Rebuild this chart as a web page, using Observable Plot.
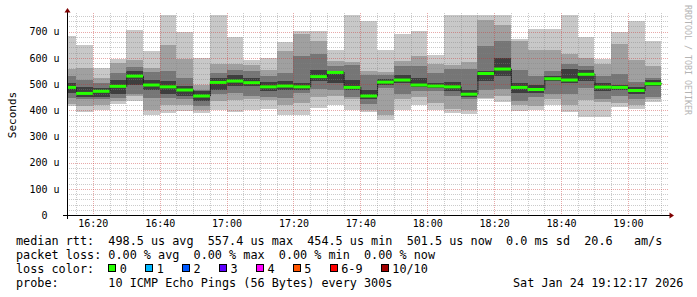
<!DOCTYPE html>
<html><head><meta charset="utf-8">
<script src="https://cdn.jsdelivr.net/npm/d3@7"></script>
<script src="https://cdn.jsdelivr.net/npm/@observablehq/plot@0.6"></script>
<style>
body{margin:0;background:#fff;}
#wrap{width:697px;height:297px;position:relative;overflow:hidden;background:#fff}
svg{display:block}
</style></head><body><div id="wrap"></div>
<script>
// 5-minute bar start times (Sat Jan 24 2026)
const barStarts = ["16:10","16:15","16:20","16:25","16:30","16:35","16:40","16:45","16:50","16:55",
  "17:00","17:05","17:10","17:15","17:20","17:25","17:30","17:35","17:40","17:45",
  "17:50","17:55","18:00","18:05","18:10","18:15","18:20","18:25","18:30","18:35",
  "18:40","18:45","18:50","18:55","19:00","19:05"];
// smoke band edges (microseconds), outer -> inner
const pMin = [415,392,400,424,434,380,390,396,390,400,392,402,405,383,383,410,418,400,392,364,402,421,400,390,384,441,430,396,400,421,392,375,375,413,406,432];
const p2lo = [424,415,421,434,453,402,421,421,402,434,438,443,438,421,428,451,453,441,402,380,443,451,428,405,402,447,453,418,415,441,418,440,430,428,421,441];
const p3lo = [447,441,441,447,460,447,447,441,415,460,466,456,451,447,466,481,479,451,425,485,460,472,472,456,441,479,482,434,451,460,463,485,443,456,441,451];
const p4lo = [466,451,451,460,498,479,460,453,434,479,491,494,472,479,479,511,502,479,443,498,504,488,485,472,451,511,532,464,466,511,502,511,472,479,460,494];
const median = [489,466,474,493,532,498,491,479,456,508,513,507,491,494,491,530,546,489,456,509,517,498,494,491,463,542,559,489,481,522,517,539,490,489,477,503];
const p4hi = [504,489,485,517,549,517,511,491,472,523,536,523,507,511,502,552,551,514,479,519,536,523,504,507,479,549,600,504,498,530,559,555,502,498,489,514];
const p3hi = [530,514,502,542,565,546,549,523,479,542,555,551,530,542,608,616,570,571,536,536,570,570,542,558,558,644,666,555,532,549,578,570,530,540,507,523];
const p2hi = [558,561,523,580,593,561,647,596,498,578,578,574,555,625,689,666,587,584,549,545,589,606,578,574,583,746,727,663,631,628,616,600,578,654,591,568];
const pMax = [685,650,561,596,708,625,765,697,600,765,680,593,600,661,704,704,628,765,742,629,692,701,612,765,765,765,765,672,711,711,765,678,596,697,740,663];
const yTicks = [0,100,200,300,400,500,600,700];
const xTickLabels = ["16:20","16:40","17:00","17:20","17:40","18:00","18:20","18:40","19:00"];
const lossLabels = ["0","1","2","3","4","5","6-9","10/10"];
const lossColors = ["#26ff00","#00b8ff","#0059ff","#5e00ff","#ff00ff","#ff5500","#ff0000","#a10000"];
const legendLines = [
  "median rtt:  498.5 us avg  557.4 us max  454.5 us min  501.5 us now  0.0 ms sd  20.6   am/s",
  "packet loss: 0.00 % avg  0.00 % max  0.00 % min  0.00 % now",
  "loss color:",
  "probe:       10 ICMP Echo Pings (56 Bytes) every 300s"
];
const stampText = "Sat Jan 24 19:12:17 2026";

const toDate = s => { const [h,m] = s.split(":").map(Number); return new Date(2026,0,24,h,m,0); };
const rows = barStarts.map((s,i) => ({
  start: toDate(s), end: new Date(+toDate(s) + 300000),
  pMin: pMin[i], p2lo: p2lo[i], p3lo: p3lo[i], p4lo: p4lo[i], median: median[i],
  p4hi: p4hi[i], p3hi: p3hi[i], p2hi: p2hi[i], pMax: pMax[i]
}));
const stepPts = rows.map(r => ({t: r.start, v: r.median}));
stepPts.push({t: rows[rows.length-1].end, v: rows[rows.length-1].median});

const t0 = new Date(2026,0,24,16,12,17), t1 = new Date(2026,0,24,19,12,17);
const yMax = 771;
const minorY = d3.range(20, yMax, 20).filter(v => v % 100 !== 0);
const majorY = d3.range(100, yMax, 100);
const minorX = d3.timeMinute.every(5).range(t0, t1).filter(d => d.getMinutes() % 20 !== 0);
const majorX = xTickLabels.map(toDate);
const minorGrid = "rgba(130,130,130,0.42)";
const majorGrid = "rgba(200,50,50,0.42)";

const plot = Plot.plot({
  width: 697, height: 232,
  marginLeft: 67, marginRight: 28, marginTop: 13, marginBottom: 17,
  style: {fontFamily: "DejaVu Sans Mono", fontSize: "10px", color: "#000", background: "#fff", overflow: "visible"},
  x: {type: "time", domain: [t0, t1], label: null},
  y: {domain: [0, yMax], label: null},
  marks: [
    Plot.rect(rows, {x1: "start", x2: "end", y1: "pMin", y2: "pMax", fill: "#c8c8c8", clip: true, shapeRendering: "crispEdges"}),
    Plot.rect(rows, {x1: "start", x2: "end", y1: "p2lo", y2: "p2hi", fill: "#a0a0a0", clip: true, shapeRendering: "crispEdges"}),
    Plot.rect(rows, {x1: "start", x2: "end", y1: "p3lo", y2: "p3hi", fill: "#767676", clip: true, shapeRendering: "crispEdges"}),
    Plot.rect(rows, {x1: "start", x2: "end", y1: "p4lo", y2: "p4hi", fill: "#3e3e3e", clip: true, shapeRendering: "crispEdges"}),
    Plot.ruleY(minorY, {stroke: minorGrid, strokeDasharray: "1,1", shapeRendering: "crispEdges"}),
    Plot.ruleX(minorX, {stroke: minorGrid, strokeDasharray: "1,1", shapeRendering: "crispEdges"}),
    Plot.ruleY(majorY, {stroke: majorGrid, strokeDasharray: "1,1", shapeRendering: "crispEdges"}),
    Plot.ruleX(majorX, {stroke: majorGrid, strokeDasharray: "1,1", shapeRendering: "crispEdges"}),
    Plot.line(stepPts, {x: "t", y: "v", curve: "step-after", stroke: "#202020", strokeWidth: 1, strokeDasharray: "1,1", clip: true}),
    Plot.ruleY(rows, {x1: "start", x2: "end", y: "median", stroke: "#26ff00", strokeWidth: 3, clip: true}),
    Plot.axisY(yTicks, {tickSize: 0, tickPadding: 8, tickFormat: d => d === 0 ? "0\u00a0\u00a0" : `${d} u`}),
    Plot.axisX(majorX, {tickSize: 0, tickPadding: 4, tickFormat: d3.timeFormat("%H:%M")})
  ]
});
document.getElementById("wrap").appendChild(plot);

// axis lines, arrows and side texts drawn from the plot's scales
const sx = plot.scale("x"), sy = plot.scale("y");
const svg = d3.select(plot);
const xL = sx.apply(t0), xR = sx.apply(t1), yB = sy.apply(0), yT = sy.apply(yMax);
const g = svg.append("g").attr("text-anchor", "start");
g.append("line").attr("x1", xL - 4).attr("x2", xR + 3).attr("y1", yB + 0.5).attr("y2", yB + 0.5).attr("stroke", "#000");
g.append("line").attr("x1", xL + 0.5).attr("x2", xL + 0.5).attr("y1", yB + 4).attr("y2", yT - 3).attr("stroke", "#000");
g.append("path").attr("d", `M${xL - 2.5},${yT - 0.5}L${xL + 3.5},${yT - 0.5}L${xL + 0.5},${yT - 5}Z`).attr("fill", "#7f0000");
g.append("path").attr("d", `M${xR + 0.5},${yB - 2.5}L${xR + 0.5},${yB + 3.5}L${xR + 5},${yB + 0.5}Z`).attr("fill", "#7f0000");
g.append("text").attr("transform", `translate(15.5,${(yB + yT) / 2 + 1}) rotate(-90)`)
  .attr("text-anchor", "middle").attr("font-family", "DejaVu Sans Mono").attr("font-size", 11).attr("fill", "#000").text("Seconds");
g.append("text").attr("transform", `translate(684.5,5) rotate(90)`).attr("text-anchor", "start")
  .attr("font-family", "DejaVu Sans Mono").attr("font-size", 8.3).attr("fill", "#b4b4b4").text("RRDTOOL / TOBI OETIKER");

// legend below the plot
const cw = 7.1, lx = 16;
const leg = d3.select("#wrap").append("svg").attr("width", 697).attr("height", 65).attr("text-anchor", "start");
const baselines = [13, 27, 40.7, 54.5];
legendLines.forEach((s, i) => {
  leg.append("text").attr("x", lx).attr("y", baselines[i]).attr("font-family", "DejaVu Sans Mono")
    .attr("font-size", 11.8).attr("fill", "#000").style("white-space", "pre").text(s);
});
leg.append("text").attr("x", lx + 70 * cw).attr("y", baselines[3]).attr("font-family", "DejaVu Sans Mono")
  .attr("font-size", 11.8).attr("fill", "#000").style("white-space", "pre").text(stampText);
let bx = lx + 13 * cw;
lossLabels.forEach((lab, i) => {
  leg.append("rect").attr("x", Math.round(bx) + 0.5).attr("y", 32.5).attr("width", 7).attr("height", 7)
    .attr("fill", lossColors[i]).attr("stroke", "#000").attr("stroke-width", 1);
  leg.append("text").attr("x", bx + 11.5).attr("y", baselines[2]).attr("font-family", "DejaVu Sans Mono")
    .attr("font-size", 11.8).attr("fill", "#000").text(lab);
  bx = bx + 11.5 + lab.length * cw + 18.3;
});
</script></body></html>
